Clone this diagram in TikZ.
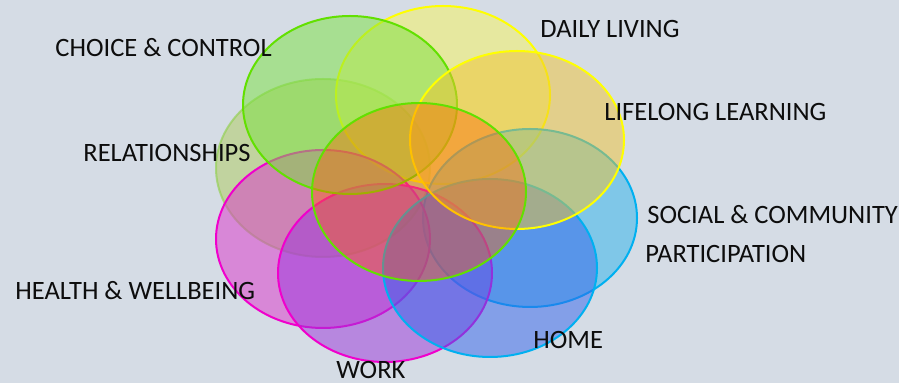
\documentclass[tikz,border=0pt]{standalone}
\usepackage{fontspec}
\setmainfont{Carlito}
\usetikzlibrary{shapes.geometric}

\definecolor{bgcol}{HTML}{D5DCE5}
\definecolor{choicefill}{HTML}{7BE23F}
\definecolor{dailyfill}{HTML}{F7F45B}
\definecolor{lifefill}{HTML}{EFC433}
\definecolor{relfill}{HTML}{AFCC5B}
\definecolor{healthfill}{HTML}{DB34CB}
\definecolor{workfill}{HTML}{9B34DB}
\definecolor{homefill}{HTML}{3364EB}
\definecolor{socialfill}{HTML}{2BB4EB}
\definecolor{corefill}{HTML}{FF6400}
\definecolor{limeline}{HTML}{62E000}
\definecolor{yellowline}{HTML}{FFFF00}
\definecolor{oliveline}{HTML}{92D050}
\definecolor{pinkline}{HTML}{F000CC}
\definecolor{cyanline}{HTML}{00B0F0}
\definecolor{labelcol}{HTML}{0D0D0D}

\tikzset{
  area/.style={ellipse, inner sep=0pt, outer sep=0pt,
    minimum width=107pt, minimum height=89pt,
    line width=1pt, fill opacity=0.5},
  lbl/.style={anchor=base west, inner sep=0pt, text=labelcol,
    font=\fontsize{13.25}{16}\selectfont}
}

\begin{document}
\begin{tikzpicture}[x=0.5pt, y=-0.5pt]
  % backdrop
  \fill[bgcol] (0,0) rectangle (899,383);
  \useasboundingbox (0,0) rectangle (899,383);

  % overlapping life areas, back to front
  \node[area, fill=relfill, draw=oliveline, draw opacity=0.65] (rel) at (323,168) {};
  \node[area, fill=dailyfill, draw=yellowline] (daily) at (443,95) {};
  \node[area, fill=socialfill, draw=cyanline] (social) at (530,218) {};
  \node[area, fill=healthfill, draw=pinkline] (health) at (323,239) {};
  \node[area, fill=workfill, draw=pinkline] (work) at (385,273) {};
  \node[area, fill=homefill, draw=cyanline] (home) at (490,268) {};
  \node[area, fill=choicefill, draw=limeline] (choice) at (350,105) {};
  \node[area, fill=lifefill, draw=yellowline] (life) at (517,140) {};
  \node[area, fill=corefill, fill opacity=0.4, draw=limeline] (core) at (419,192) {};

  % labels
  \node[lbl] (tchoice) at (55,57) {CHOICE \& CONTROL};
  \node[lbl] (tdaily) at (540,38) {DAILY LIVING};
  \node[lbl] (tlife) at (604,121) {LIFELONG LEARNING};
  \node[lbl] (trel) at (83,162) {RELATIONSHIPS};
  \node[lbl] (tsocial) at (647,224) {SOCIAL \& COMMUNITY};
  \node[lbl] (tpart) at (645,263) {PARTICIPATION};
  \node[lbl] (thealth) at (15,300) {HEALTH \& WELLBEING};
  \node[lbl] (thome) at (533,349) {HOME};
  \node[lbl] (twork) at (336,379) {WORK};
\end{tikzpicture}
\end{document}
